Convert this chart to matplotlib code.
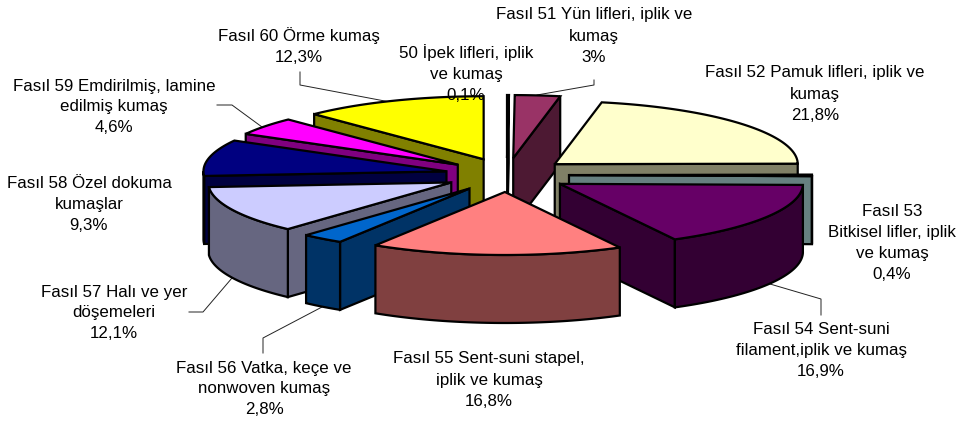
import numpy as np
import matplotlib
matplotlib.use('Agg')
import matplotlib.pyplot as plt
from matplotlib.patches import Polygon

plt.rcParams['font.family'] = ['Liberation Sans', 'DejaVu Sans']

# slices, clockwise from 12 o'clock
labels = ['50 İpek lifleri, iplik\nve kumaş\n0,1%',
          'Fasıl 51 Yün lifleri, iplik ve\nkumaş\n3%',
          'Fasıl 52 Pamuk lifleri, iplik ve\nkumaş\n21,8%',
          'Fasıl 53\nBitkisel lifler, iplik\nve kumaş\n0,4%',
          'Fasıl 54 Sent-suni\nfilament,iplik ve kumaş\n16,9%',
          'Fasıl 55 Sent-suni stapel,\niplik ve kumaş\n16,8%',
          'Fasıl 56 Vatka, keçe ve\nnonwoven kumaş\n2,8%',
          'Fasıl 57 Halı ve yer\ndöşemeleri\n12,1%',
          'Fasıl 58 Özel dokuma\nkumaşlar\n9,3%',
          'Fasıl 59 Emdirilmiş, lamine\nedilmiş kumaş\n4,6%',
          'Fasıl 60 Örme kumaş\n12,3%']
values = [0.1, 3, 21.8, 0.4, 16.9, 16.8, 2.8, 12.1, 9.3, 4.6, 12.3]
top_colors = ['#FFFFFF', '#993366', '#FFFFCC', '#CCFFFF', '#660066', '#FF8080',
              '#0066CC', '#CCCCFF', '#000080', '#FF00FF', '#FFFF00']
side_colors = ['#FFFFFF', '#4D1933', '#808066', '#668080', '#330033', '#804040',
               '#003366', '#666680', '#000040', '#800080', '#808000']

# label centres in pixels
label_pos = [(466, 74), (594, 36), (815, 94), (892, 243), (821, 351), (489, 380),
             (264, 389), (114, 313), (89, 205), (114, 107), (299, 46)]

# leader lines
leaders = [[(537, 95), (594, 85), (594, 80)],
           [(300, 72), (300, 85), (390, 102)],
           [(217, 105), (232, 105), (262, 127)],
           [(232, 278), (203, 312), (189, 312)],
           [(322, 307), (263, 338), (263, 353)],
           [(770, 284), (821, 299), (821, 315)]]

# back to front
draw_order = [0, 1, 10, 9, 8, 7, 2, 3, 4, 6, 5]

cx, cy = 507, 175
rx, ry = 243, 63
ex, ey = 62, 17
depth = 68

fig = plt.figure(figsize=(9.64, 4.23), dpi=100)
ax = fig.add_axes([0, 0, 1, 1])
ax.set_xlim(0, 964)
ax.set_ylim(423, 0)
ax.axis('off')

for pts in leaders:
    ax.plot([p[0] for p in pts], [p[1] for p in pts], color='#222222', lw=0.7, zorder=1)

shares = np.array(values) / sum(values) * 360
ends = np.cumsum(shares)
starts = ends - shares


def face(pts, color, z):
    ax.add_patch(Polygon(pts, closed=True, facecolor=color, edgecolor='black',
                         lw=1.6, joinstyle='miter', zorder=z))


z = 2
for i in draw_order:
    a1, a2 = starts[i], ends[i]
    mid = np.radians((a1 + a2) / 2)
    ox = cx + ex * np.sin(mid)
    oy = cy - ey * np.cos(mid)

    def rim(deg):
        t = np.radians(deg)
        return np.column_stack([ox + rx * np.sin(t), oy - ry * np.cos(t)])

    apex = np.array([[ox, oy]])
    down = np.array([0, depth])

    # cut faces that look towards the viewer
    if 180 < a1 < 360:
        p = rim(np.array([a1]))
        face(np.vstack([apex, p, p + down, apex + down]), side_colors[i], z)
    if 0 < a2 < 180:
        p = rim(np.array([a2]))
        face(np.vstack([apex, p, p + down, apex + down]), side_colors[i], z)
    # outer wall, only the front half of the ellipse shows
    lo, hi = max(a1, 90), min(a2, 270)
    if hi > lo:
        p = rim(np.linspace(lo, hi, 60))
        face(np.vstack([p, (p + down)[::-1]]), side_colors[i], z)
    # top
    face(np.vstack([apex, rim(np.linspace(a1, a2, 80))]), top_colors[i], z)
    z += 1

for lab, (x, y) in zip(labels, label_pos):
    ax.text(x, y, lab, ha='center', va='center', fontsize=12.2, color='black',
            linespacing=1.5, zorder=50)

fig.savefig('out.png', dpi=100)
